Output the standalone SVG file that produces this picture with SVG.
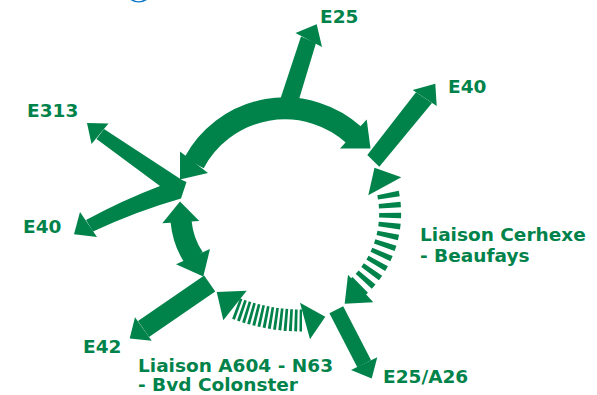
<svg xmlns="http://www.w3.org/2000/svg" width="597" height="395" viewBox="0 0 597 395">
<style>
.g{fill:#00834B}
.s{fill:none;stroke:#00834B;stroke-linecap:butt}
.lbl{font-family:"DejaVu Sans","Liberation Sans",sans-serif;font-weight:bold;font-size:18.5px;fill:#00834B}
</style>
<rect x="0" y="0" width="597" height="395" fill="#ffffff"/>
<path d="M130.5,0 Q138.5,5.2 147,0 L143.5,0 Q138.5,2.4 133.8,0 Z" fill="#0A74C4"/>
<g id="connectors">
  <!-- top arc -->
  <path class="s" d="M194,163 A103,103 0 0 1 354,135" stroke-width="22"/>
  <polygon class="g" points="180,151.5 208,173 180,179.5"/>
  <polygon class="g" points="366.7,119.5 340,148.5 370.5,148.5"/>
  <!-- E25 -->
  <polygon class="g" points="278,106 301,36.5 316,43 297,106"/>
  <polygon class="g" points="295.5,33 316.7,24.3 322,47"/>
  <!-- E40 right -->
  <polygon class="g" points="367.3,155 416,92.2 432,103 379.3,166.7"/>
  <polygon class="g" points="412.7,90 435.3,83.7 436.7,106"/>
  <!-- E313 + E40 left junction -->
  <path class="g" d="M104,129 L182,180 L186.5,182 L181,198.5 Q137,211 93,231.5 L86,220 Q123,200 160,186 L96.5,139 Z"/>
  <polygon class="g" points="108.5,123.5 87,123 91.5,144"/>
  <polygon class="g" points="80,212 97,237 74,234.3"/>
  <!-- left double arrow -->
  <path class="s" d="M181,221 Q183,242 194,258" stroke-width="21"/>
  <polygon class="g" points="180,201.5 162.3,223.3 199.3,221"/>
  <polygon class="g" points="176,264.3 210,249 203.3,276.5"/>
  <!-- E42 -->
  <path class="s" d="M209.7,283.5 L143.5,329" stroke-width="19.5"/>
  <polygon class="g" points="135,317.3 151.7,340.7 129.7,338.5"/>
  <!-- Liaison Cerhexe dashed -->
  <path class="s" d="M388,193 A100,100 0 0 1 358,287" stroke-width="22" stroke-dasharray="5 5"/>
  <polygon class="g" points="374.5,167.8 401.3,177.3 368.3,195.3"/>
  <polygon class="g" points="348,274.7 373.3,302.3 344.7,303.7"/>
  <!-- Liaison A604 dashed -->
  <path class="s" d="M236,308.5 A185,185 0 0 0 302,320.5" stroke-width="22" stroke-dasharray="2.8 2.2"/>
  <polygon class="g" points="216.7,292 246.7,290.7 223.3,320.3"/>
  <polygon class="g" points="300,302.7 325.3,316.7 310,339.3"/>
  <!-- E25/A26 -->
  <path class="s" d="M336.3,309.7 L364.2,363.8" stroke-width="15.5"/>
  <polygon class="g" points="351,370 377.3,357.3 371.7,378.5"/>
</g>
<g id="n-e25"><text class="lbl" x="320" y="23">E25</text></g>
<g id="n-e40-right"><text class="lbl" x="448" y="93">E40</text></g>
<g id="n-e313"><text class="lbl" x="27" y="117">E313</text></g>
<g id="n-e40-left"><text class="lbl" x="23" y="233">E40</text></g>
<g id="n-e42"><text class="lbl" x="83" y="353">E42</text></g>
<g id="n-cerhexe"><text class="lbl" x="420" y="241">Liaison Cerhexe</text><text class="lbl" x="420" y="262">- Beaufays</text></g>
<g id="n-a604"><text class="lbl" x="138" y="372">Liaison A604 - N63</text><text class="lbl" x="138" y="391">- Bvd Colonster</text></g>
<g id="n-e25a26"><text class="lbl" x="383" y="383">E25/A26</text></g>
</svg>
